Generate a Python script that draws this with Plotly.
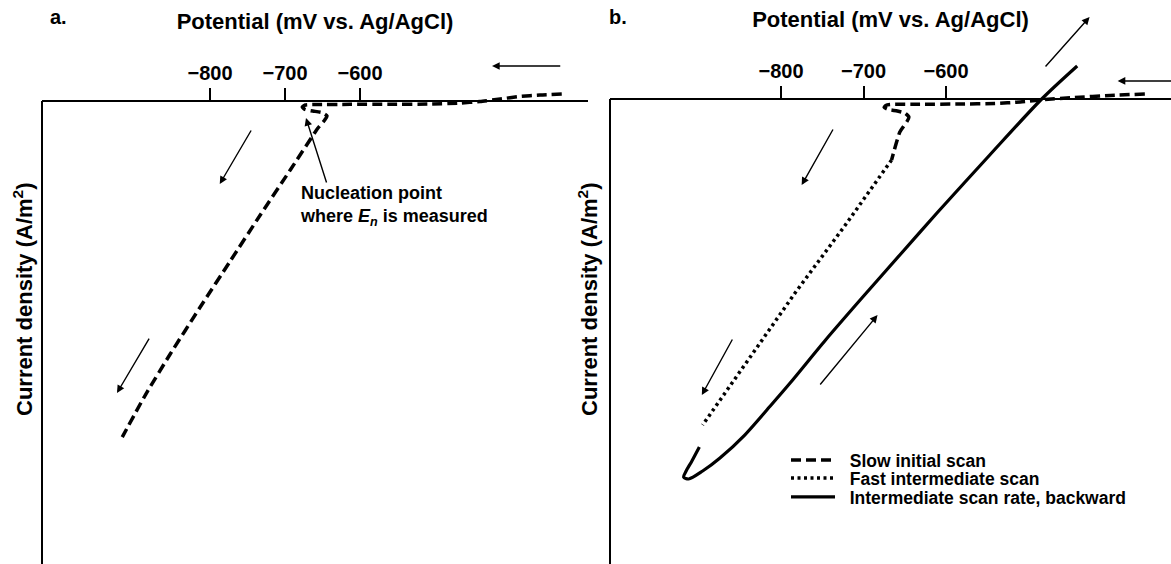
import plotly.graph_objects as go

# ---------------- data ----------------
# Panel a: slow initial scan (dashed)
a_potential = [-331, -360, -387, -413, -440, -467, -507, -560, -613, -660, -673, -677,
               -673, -663, -651, -644, -647, -656, -693, -733, -773, -813, -853, -887, -917]
a_current = [0.76, 0.65, 0.49, 0.22, -0.05, -0.22, -0.32, -0.36, -0.36, -0.38, -0.43, -0.65,
             -0.92, -1.08, -1.24, -1.62, -2.05, -2.92, -7.45, -12.31, -17.28, -22.25, -27.32, -31.86, -36.29]

# Panel b: slow initial scan (dashed)
b_slow_potential = [-359, -401, -444, -480, -510, -541, -583, -632, -668, -673, -675,
                    -670, -659, -650, -645, -647, -656, -666]
b_slow_current = [0.54, 0.38, 0.16, -0.05, -0.32, -0.48, -0.54, -0.57, -0.59, -0.70, -0.91,
                  -1.13, -1.29, -1.51, -1.94, -2.37, -3.55, -6.56]
# Panel b: fast intermediate scan (dotted)
b_fast_potential = [-666, -722, -783, -838, -895]
b_fast_current = [-6.56, -13.55, -20.86, -27.85, -35.05]
# Panel b: intermediate scan rate, backward (solid)
b_back_potential = [-899, -908, -915, -918, -912, -895, -874, -844, -813, -789, -746, -702,
                    -656, -611, -547, -484, -441]
b_back_current = [-37.42, -38.92, -40.0, -40.65, -40.86, -40.0, -38.6, -36.13, -33.01, -30.54,
                  -25.91, -21.4, -16.77, -12.26, -6.02, 0.0, 3.55]

series_names = ["Slow initial scan", "Fast intermediate scan", "Intermediate scan rate, backward"]
tick_values = [-800, -700, -600]
tick_text = ["\u2212800", "\u2212700", "\u2212600"]
x_title = "Potential (mV vs. Ag/AgCl)"
y_title = "Current density (A/m<sup>2</sup>)"

# arrows: (tail_x, tail_y, head_x, head_y) in data units
a_arrows = [(-331, 3.78, -424, 3.78), (-744, -3.02, -787, -8.96), (-880, -25.49, -924, -31.53)]
a_nucleation_arrow = (-644, -8.96, -672, -1.84)
b_arrows = [(-319, 1.94, -392, 1.94), (-481, 3.33, -426, 8.82), (-736, -3.12, -775, -9.25),
            (-858, -25.7, -896, -31.83), (-754, -30.86, -683, -23.23)]

# ---------------- layout constants ----------------
W, H = 1171, 564
FONT = "Liberation Sans"
ya_range = [-50, 9.83]
yb_range = [-50, 9.57]
xa_range = [-1024, -296]
xb_range = [-1007.3, -327.3]
T_MARGIN = 10
plot_h = H - T_MARGIN


def px_x(p):
    return p / W


def px_y(p):
    return (H - p) / plot_h


fig = go.Figure()

DASH = "10px,5px"
fig.add_trace(go.Scatter(x=a_potential, y=a_current, mode="lines", xaxis="x", yaxis="y",
                         line=dict(color="black", width=3.5, dash=DASH, shape="spline", smoothing=0.5),
                         name=series_names[0], showlegend=False))
fig.add_trace(go.Scatter(x=b_slow_potential, y=b_slow_current, mode="lines", xaxis="x2", yaxis="y2",
                         line=dict(color="black", width=3.5, dash=DASH, shape="spline", smoothing=0.5),
                         name="\u00a0\u00a0" + series_names[0], legend="legend"))
fig.add_trace(go.Scatter(x=b_fast_potential, y=b_fast_current, mode="lines", xaxis="x2", yaxis="y2",
                         line=dict(color="black", width=3.5, dash="3px,3.5px"),
                         name="\u00a0\u00a0" + series_names[1], legend="legend2"))
fig.add_trace(go.Scatter(x=b_back_potential, y=b_back_current, mode="lines", xaxis="x2", yaxis="y2",
                         line=dict(color="black", width=3.2, shape="spline", smoothing=0.8),
                         name="\u00a0\u00a0" + series_names[2], legend="legend3"))

tickfont = dict(family=FONT, size=20, color="black", weight="bold")
titlefont = dict(family=FONT, size=22, color="black", weight="bold")


def xaxis_cfg(dom, rng, yr):
    return dict(domain=dom, range=rng, anchor="free", position=(0 - yr[0]) / (yr[1] - yr[0]),
                side="top", showline=True, linecolor="black", linewidth=2,
                ticks="outside", ticklen=12, tickwidth=2, tickcolor="black",
                tickvals=tick_values, ticktext=tick_text, tickfont=tickfont,
                showgrid=False, zeroline=False,
                title=dict(text=x_title, font=titlefont, standoff=25))


def yaxis_cfg(rng, anchor):
    return dict(domain=[0, 1], range=rng, anchor=anchor, showline=False, showgrid=False,
                zeroline=False, showticklabels=False, ticks="")


def legend_cfg(row_center):
    return dict(x=px_x(786), y=px_y(row_center - 18), xanchor="left", yanchor="top",
                bgcolor="rgba(0,0,0,0)", borderwidth=0, itemwidth=44,
                font=dict(family=FONT, size=17.5, color="black", weight="bold"))


fig.update_layout(
    width=W, height=H,
    margin=dict(l=0, r=0, t=T_MARGIN, b=0, autoexpand=False),
    paper_bgcolor="white", plot_bgcolor="white",
    xaxis=xaxis_cfg([42 / W, 588 / W], xa_range, ya_range),
    yaxis=yaxis_cfg(ya_range, "x"),
    xaxis2=xaxis_cfg([610 / W, 1.0], xb_range, yb_range),
    yaxis2=yaxis_cfg(yb_range, "x2"),
    showlegend=True,
    legend=legend_cfg(460),
    legend2=legend_cfg(478),
    legend3=legend_cfg(497),
)

# vertical axis lines (from the x axis down to the bottom)
for xr, yr, rng in [("x domain", "y", ya_range), ("x2 domain", "y2", yb_range)]:
    fig.add_shape(type="line", xref=xr, yref=yr, x0=0, x1=0, y0=0, y1=rng[0],
                  line=dict(color="black", width=2))

ann = []
for (tx, ty, hx, hy) in a_arrows + [a_nucleation_arrow]:
    ann.append(dict(xref="x", yref="y", axref="x", ayref="y", x=hx, y=hy, ax=tx, ay=ty, text="",
                    showarrow=True, arrowhead=2, arrowsize=1.1, arrowwidth=1.4, arrowcolor="black"))
for (tx, ty, hx, hy) in b_arrows:
    ann.append(dict(xref="x2", yref="y2", axref="x2", ayref="y2", x=hx, y=hy, ax=tx, ay=ty, text="",
                    showarrow=True, arrowhead=2, arrowsize=1.1, arrowwidth=1.4, arrowcolor="black"))

ann.append(dict(xref="x", yref="y", x=-683, y=-11.34, xanchor="left", yanchor="middle", align="left",
                showarrow=False,
                text="Nucleation point<br>where <i>E</i><sub><i>n</i></sub> is measured",
                font=dict(family=FONT, size=18, color="black", weight="bold")))
ann.append(dict(xref="paper", yref="paper", x=px_x(58), y=px_y(17), text="a.", showarrow=False,
                xanchor="center", yanchor="middle", font=dict(family=FONT, size=20, color="black", weight="bold")))
ann.append(dict(xref="paper", yref="paper", x=px_x(618), y=px_y(17), text="b.", showarrow=False,
                xanchor="center", yanchor="middle", font=dict(family=FONT, size=20, color="black", weight="bold")))
for cx in (23, 588):
    ann.append(dict(xref="paper", yref="paper", x=px_x(cx), y=px_y(300), text=y_title, textangle=-90,
                    showarrow=False, xanchor="center", yanchor="middle", font=titlefont))

fig.update_layout(annotations=ann)

fig.write_html("out.html")
